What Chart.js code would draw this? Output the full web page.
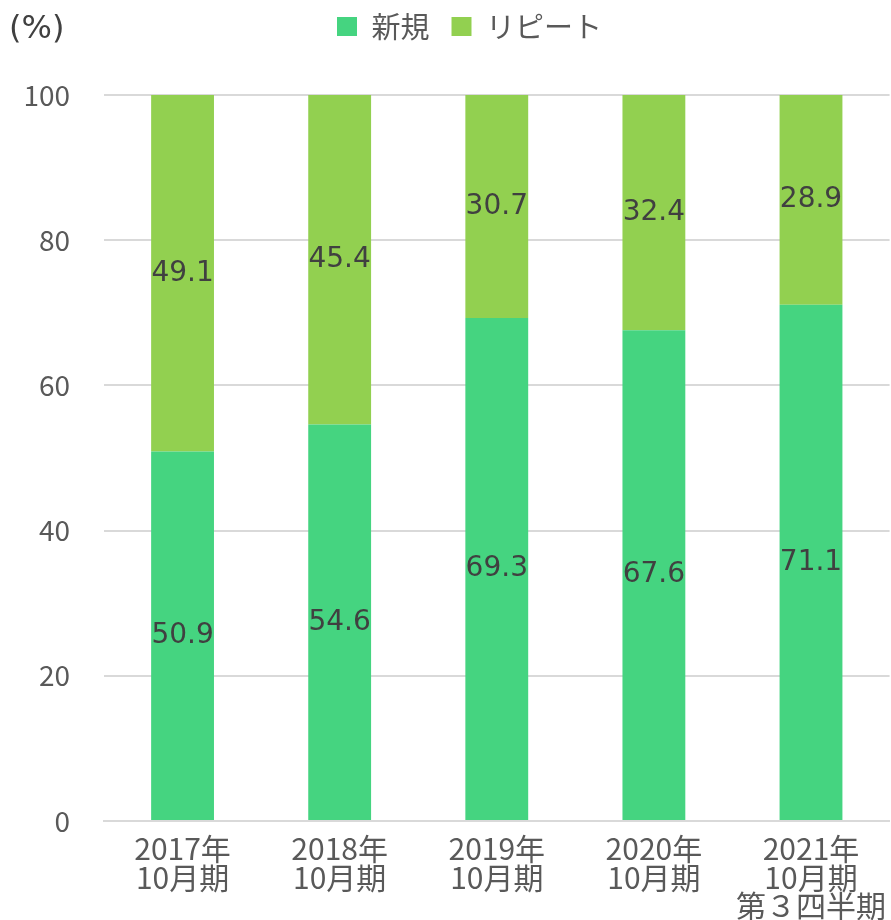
<!DOCTYPE html>
<html>
<head>
<meta charset="utf-8">
<script src="https://cdn.jsdelivr.net/npm/chart.js@4.4.0/dist/chart.umd.min.js"></script>
<style>
  html, body { margin: 0; padding: 0; background: #fff; }
  #wrap { width: 891px; height: 920px; position: relative; }
</style>
</head>
<body>
<div id="wrap"><canvas id="myChart" width="891" height="920"></canvas></div>
<script>
// categories
var periods = [
	["2017年", "10月期"],
	["2018年", "10月期"],
	["2019年", "10月期"],
	["2020年", "10月期"],
	["2021年", "10月期", "第３四半期"]
];
// series (%)
var shinki = [50.9, 54.6, 69.3, 67.6, 71.1];
var repeat = [49.1, 45.4, 30.7, 32.4, 28.9];
var yTicks = [0, 20, 40, 60, 80, 100];

var jpFont = "'Noto Sans CJK JP', 'Noto Sans', sans-serif";

// values written in the middle of each segment
var barLabels = {
	id: "barLabels",
	afterDatasetsDraw: function(chart) {
		var ctx = chart.ctx;
		ctx.save();
		ctx.fillStyle = "#404040";
		ctx.font = "28px 'DejaVu Sans', sans-serif";
		ctx.textAlign = "center";
		ctx.textBaseline = "middle";
		chart.data.datasets.forEach(function(ds, i) {
			chart.getDatasetMeta(i).data.forEach(function(bar, j) {
				var mid = (bar.y + bar.base) / 2;
				ctx.fillText(ds.data[j].toFixed(1), bar.x, mid);
			});
		});
		ctx.restore();
	}
};

// "(%)" unit in the top left corner
var unitLabel = {
	id: "unitLabel",
	afterDraw: function(chart) {
		var ctx = chart.ctx;
		ctx.save();
		ctx.fillStyle = "#404040";
		ctx.font = "32px 'DejaVu Sans', sans-serif";
		ctx.textAlign = "left";
		ctx.textBaseline = "middle";
		ctx.fillText("(%)", 9, 30);
		ctx.restore();
	}
};

// fixed legend height so the plot starts lower, legend nudged right/up
var legendSpace = {
	id: "legendSpace",
	beforeInit: function(chart) {
		var fit = chart.legend.fit;
		chart.legend.fit = function() {
			fit.call(this);
			this.height = 91;
		};
	},
	afterLayout: function(chart) {
		var lg = chart.legend;
		lg.left += 24; lg.right += 24;
		lg.top -= 14; lg.bottom -= 14;
	}
};

var ctx = document.getElementById("myChart");

var data = {
	labels : periods,
	datasets : [
		{
			label : "新規",
			data : shinki,
			backgroundColor : "#45D480",
			borderWidth : 0,
			categoryPercentage : 1,
			barPercentage : 0.4
		},
		{
			label : "リピート",
			data : repeat,
			backgroundColor : "#92D050",
			borderWidth : 0,
			categoryPercentage : 1,
			barPercentage : 0.4
		}
	]
};

var myChart = new Chart(ctx, {
	type : "bar",
	data : data,
	plugins : [barLabels, unitLabel, legendSpace],
	options : {
		responsive : false,
		animation : false,
		layout : { padding : { top : 4, right : 0, bottom : 0, left : 0 } },
		plugins : {
			legend : {
				position : "top",
				labels : {
					boxWidth : 20,
					boxHeight : 19,
					padding : 22,
					color : "#595959",
					font : { size : 29, family : jpFont }
				}
			},
			tooltip : { enabled : false }
		},
		scales : {
			x : {
				stacked : true,
				grid : { display : false },
				border : { color : "#D9D9D9", width : 2 },
				ticks : {
					color : "#595959",
					padding : 5,
					maxRotation : 0,
					font : { size : 30, family : jpFont, lineHeight : 0.96 }
				},
				afterFit : function(scale) { scale.height = 99; }
			},
			y : {
				stacked : true,
				min : 0,
				max : 100,
				afterBuildTicks : function(scale) {
					scale.ticks = yTicks.map(function(v) { return { value : v }; });
				},
				grid : { color : "#D9D9D9", lineWidth : 2, drawTicks : false },
				border : { display : false },
				ticks : {
					color : "#595959",
					padding : 34,
					font : { size : 28, family : jpFont }
				},
				afterFit : function(scale) { scale.width = 104; }
			}
		}
	}
});
</script>
</body>
</html>
